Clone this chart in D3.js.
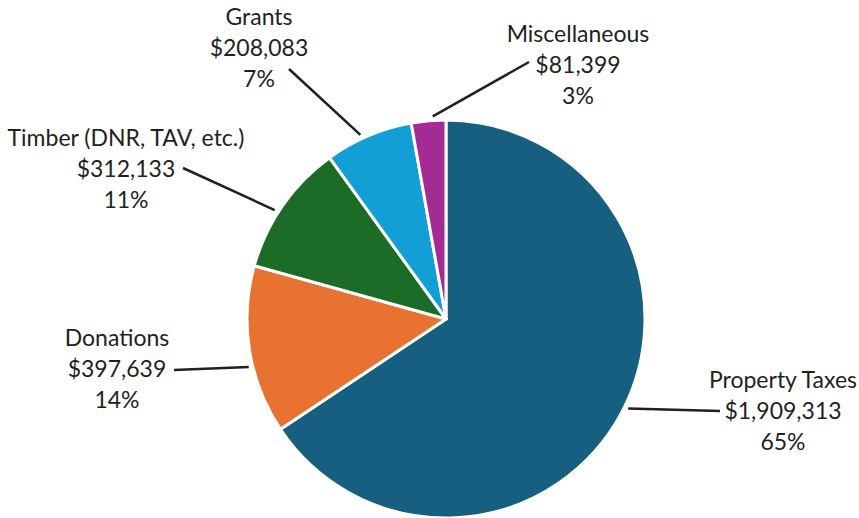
<!DOCTYPE html>
<html>
<head>
<meta charset="utf-8">
<script src="https://cdn.jsdelivr.net/npm/d3@7"></script>
<style>
  body { margin: 0; background: #fff; }
  text { font-family: Lato, "Open Sans", sans-serif; fill: #231f20; }
</style>
</head>
<body>
<div id="app"></div>
<script>
// chart data
const categories = ["Property Taxes", "Donations", "Timber (DNR, TAV, etc.)", "Grants", "Miscellaneous"];
const values = [1909313, 397639, 312133, 208083, 81399];
const percentLabels = ["65%", "14%", "11%", "7%", "3%"];
const colors = ["#175f80", "#e87232", "#1c6b27", "#129fd6", "#a22c94"];

// label layout: text centre x, first baseline y, leader line end, leader start nudge (deg)
const labelPos = [
  { x: 783, y: 388, ex: 720, ey: 411, nudge: -2 },
  { x: 117, y: 346, ex: 174, ey: 370, nudge: -4.6 },
  { x: 126, y: 146, ex: 183, ey: 168, nudge: -2.4 },
  { x: 259, y: 25, ex: 289, ey: 69, nudge: -2 },
  { x: 578, y: 42, ex: 529, ey: 62, nudge: 1.3 }
];

const width = 859;
const height = 518;
const cx = 446, cy = 319, radius = 199;

const svg = d3.select("#app").append("svg").attr("width", width).attr("height", height);
const g = svg.append("g").attr("transform", `translate(${cx},${cy})`);

const pie = d3.pie().sort(null).value(d => d);
const arcs = pie(values);
const arc = d3.arc().innerRadius(0).outerRadius(radius);

// SLICES
g.selectAll("path.slice")
  .data(arcs)
  .join("path")
  .attr("class", "slice")
  .attr("d", arc)
  .attr("fill", (d, i) => colors[i])
  .attr("stroke", "#fff")
  .attr("stroke-width", 3)
  .attr("stroke-linejoin", "round");

// LEADER LINES
const fmt = d3.format("$,");
const lineR = radius + 4;
const leadAngle = (d, i) => (d.startAngle + d.endAngle) / 2 + labelPos[i].nudge * Math.PI / 180;
svg.selectAll("line.leader")
  .data(arcs)
  .join("line")
  .attr("class", "leader")
  .attr("x1", (d, i) => cx + lineR * Math.sin(leadAngle(d, i)))
  .attr("y1", (d, i) => cy - lineR * Math.cos(leadAngle(d, i)))
  .attr("x2", (d, i) => labelPos[i].ex)
  .attr("y2", (d, i) => labelPos[i].ey)
  .attr("stroke", "#231f20")
  .attr("stroke-width", 2.5);

// LABELS
const labels = svg.selectAll("text.lbl")
  .data(arcs)
  .join("text")
  .attr("class", "lbl")
  .attr("text-anchor", "middle")
  .attr("font-size", 23)
  .attr("x", (d, i) => labelPos[i].x)
  .attr("y", (d, i) => labelPos[i].y);

labels.each(function (d, i) {
  const t = d3.select(this);
  const lines = [categories[i], fmt(values[i]), percentLabels[i]];
  lines.forEach((s, k) => {
    t.append("tspan")
      .attr("x", labelPos[i].x)
      .attr("dy", k === 0 ? 0 : 31)
      .text(s);
  });
});
</script>
</body>
</html>
